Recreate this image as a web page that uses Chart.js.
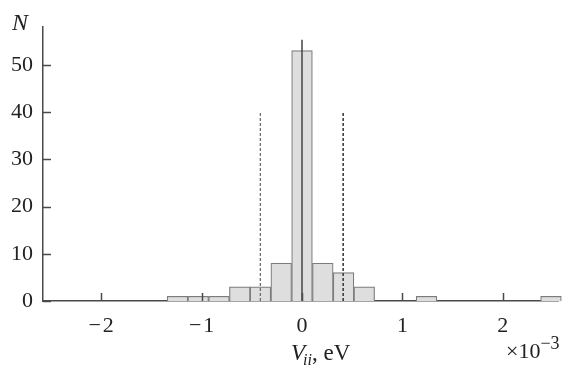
<!DOCTYPE html>
<html>
<head>
<meta charset="utf-8">
<script src="https://cdn.jsdelivr.net/npm/chart.js@4.4.1/dist/chart.umd.min.js"></script>
<style>
  html, body { margin: 0; padding: 0; background: #fff; }
  #wrap { width: 568px; height: 373px; position: relative; }
</style>
</head>
<body>
<div id="wrap"><canvas id="hist"></canvas></div>
<script>
  // histogram bins (centres, units of 1e-3 eV) and counts
  const binCenters = [-1.24, -1.034, -0.827, -0.62, -0.414, -0.207, 0, 0.207, 0.414, 0.62, 1.24, 2.48];
  const binCounts = [1, 1, 1, 3, 3, 8, 53, 8, 6, 3, 1, 1];

  // reference markers
  const zeroLine = { x: 0, top: 55.3 };
  const dashLeft = { x: -0.415, top: 40 };
  const dashRight = { x: 0.41, top: 40 };

  const xTicks = [-2, -1, 0, 1, 2];
  const yTicks = [0, 10, 20, 30, 40, 50];

  const AXIS = '#4a4a4a';
  const SERIF = '"Liberation Serif", "Times New Roman", serif';

  const minus = v => (v < 0 ? '\u2212\u200a' + Math.abs(v) : String(v));

  // short inward tick marks and the italic axis labels
  const axisDecor = {
    id: 'axisDecor',
    afterDraw(chart) {
      const { ctx, chartArea: a, scales: { x, y } } = chart;
      ctx.save();
      ctx.strokeStyle = AXIS;
      ctx.lineWidth = 1.5;
      ctx.beginPath();
      yTicks.forEach(v => {
        const py = Math.round(y.getPixelForValue(v)) + 0.5;
        ctx.moveTo(a.left, py);
        ctx.lineTo(a.left + 8, py);
      });
      xTicks.forEach(v => {
        const px = Math.round(x.getPixelForValue(v)) + 0.5;
        ctx.moveTo(px, a.bottom);
        ctx.lineTo(px, a.bottom - 8);
      });
      ctx.stroke();

      ctx.fillStyle = '#222';
      ctx.textBaseline = 'alphabetic';
      ctx.textAlign = 'left';
      ctx.font = 'italic 24px ' + SERIF;
      ctx.fillText('N', 12, 30);

      // V_ii, eV
      let cx = 291;
      ctx.font = 'italic 23px ' + SERIF;
      ctx.fillText('V', cx, 360);
      cx += ctx.measureText('V').width - 2;
      ctx.font = 'italic 16px ' + SERIF;
      ctx.fillText('ii', cx, 365);
      cx += ctx.measureText('ii').width;
      ctx.font = '23px ' + SERIF;
      ctx.fillText(', eV', cx, 360);

      // x10^-3 multiplier
      cx = 506;
      ctx.font = '22px ' + SERIF;
      ctx.fillText('\u00d710', cx, 358);
      cx += ctx.measureText('\u00d710').width;
      ctx.font = '18px ' + SERIF;
      ctx.fillText('\u22123', cx, 349);
      ctx.restore();
    }
  };

  new Chart(document.getElementById('hist'), {
    type: 'bar',
    data: {
      datasets: [{
        type: 'bar',
        data: binCenters.map((c, i) => ({ x: c, y: binCounts[i] })),
        backgroundColor: '#dedede',
        borderColor: '#7c7c7c',
        borderWidth: 1.2,
        barPercentage: 1,
        categoryPercentage: 1,
        clip: false,
        order: 2
      }, {
        type: 'line',
        data: [{ x: zeroLine.x, y: 0 }, { x: zeroLine.x, y: zeroLine.top }],
        borderColor: '#444',
        borderWidth: 1.5,
        pointRadius: 0,
        order: 1
      }, {
        type: 'line',
        data: [{ x: dashLeft.x, y: 0 }, { x: dashLeft.x, y: dashLeft.top }],
        borderColor: '#666',
        borderWidth: 1.2,
        borderDash: [3, 2],
        pointRadius: 0,
        order: 1
      }, {
        type: 'line',
        data: [{ x: dashRight.x, y: 0 }, { x: dashRight.x, y: dashRight.top }],
        borderColor: '#333',
        borderWidth: 1.5,
        borderDash: [3, 2],
        pointRadius: 0,
        order: 1
      }]
    },
    options: {
      responsive: true,
      maintainAspectRatio: false,
      animation: false,
      layout: { padding: { top: 27, right: 10, left: 0, bottom: 0 } },
      plugins: { legend: { display: false }, tooltip: { enabled: false } },
      scales: {
        x: {
          type: 'linear',
          offset: false,
          min: -2.58,
          max: 2.55,
          afterFit: s => { s.height = 72; },
          afterBuildTicks: s => { s.ticks = xTicks.map(v => ({ value: v })); },
          grid: { display: false, drawTicks: false, offset: false },
          border: { display: true, color: AXIS, width: 1.5 },
          ticks: {
            padding: 12,
            color: '#222',
            font: { family: SERIF, size: 22 },
            callback: v => minus(v)
          }
        },
        y: {
          min: 0,
          max: 58,
          afterFit: s => { s.width = 43; },
          afterBuildTicks: s => { s.ticks = yTicks.map(v => ({ value: v })); },
          grid: { display: false, drawTicks: false },
          border: { display: true, color: AXIS, width: 1.5 },
          ticks: {
            padding: 10,
            color: '#222',
            font: { family: SERIF, size: 22 },
            callback: v => String(v)
          }
        }
      }
    },
    plugins: [axisDecor]
  });
</script>
</body>
</html>
